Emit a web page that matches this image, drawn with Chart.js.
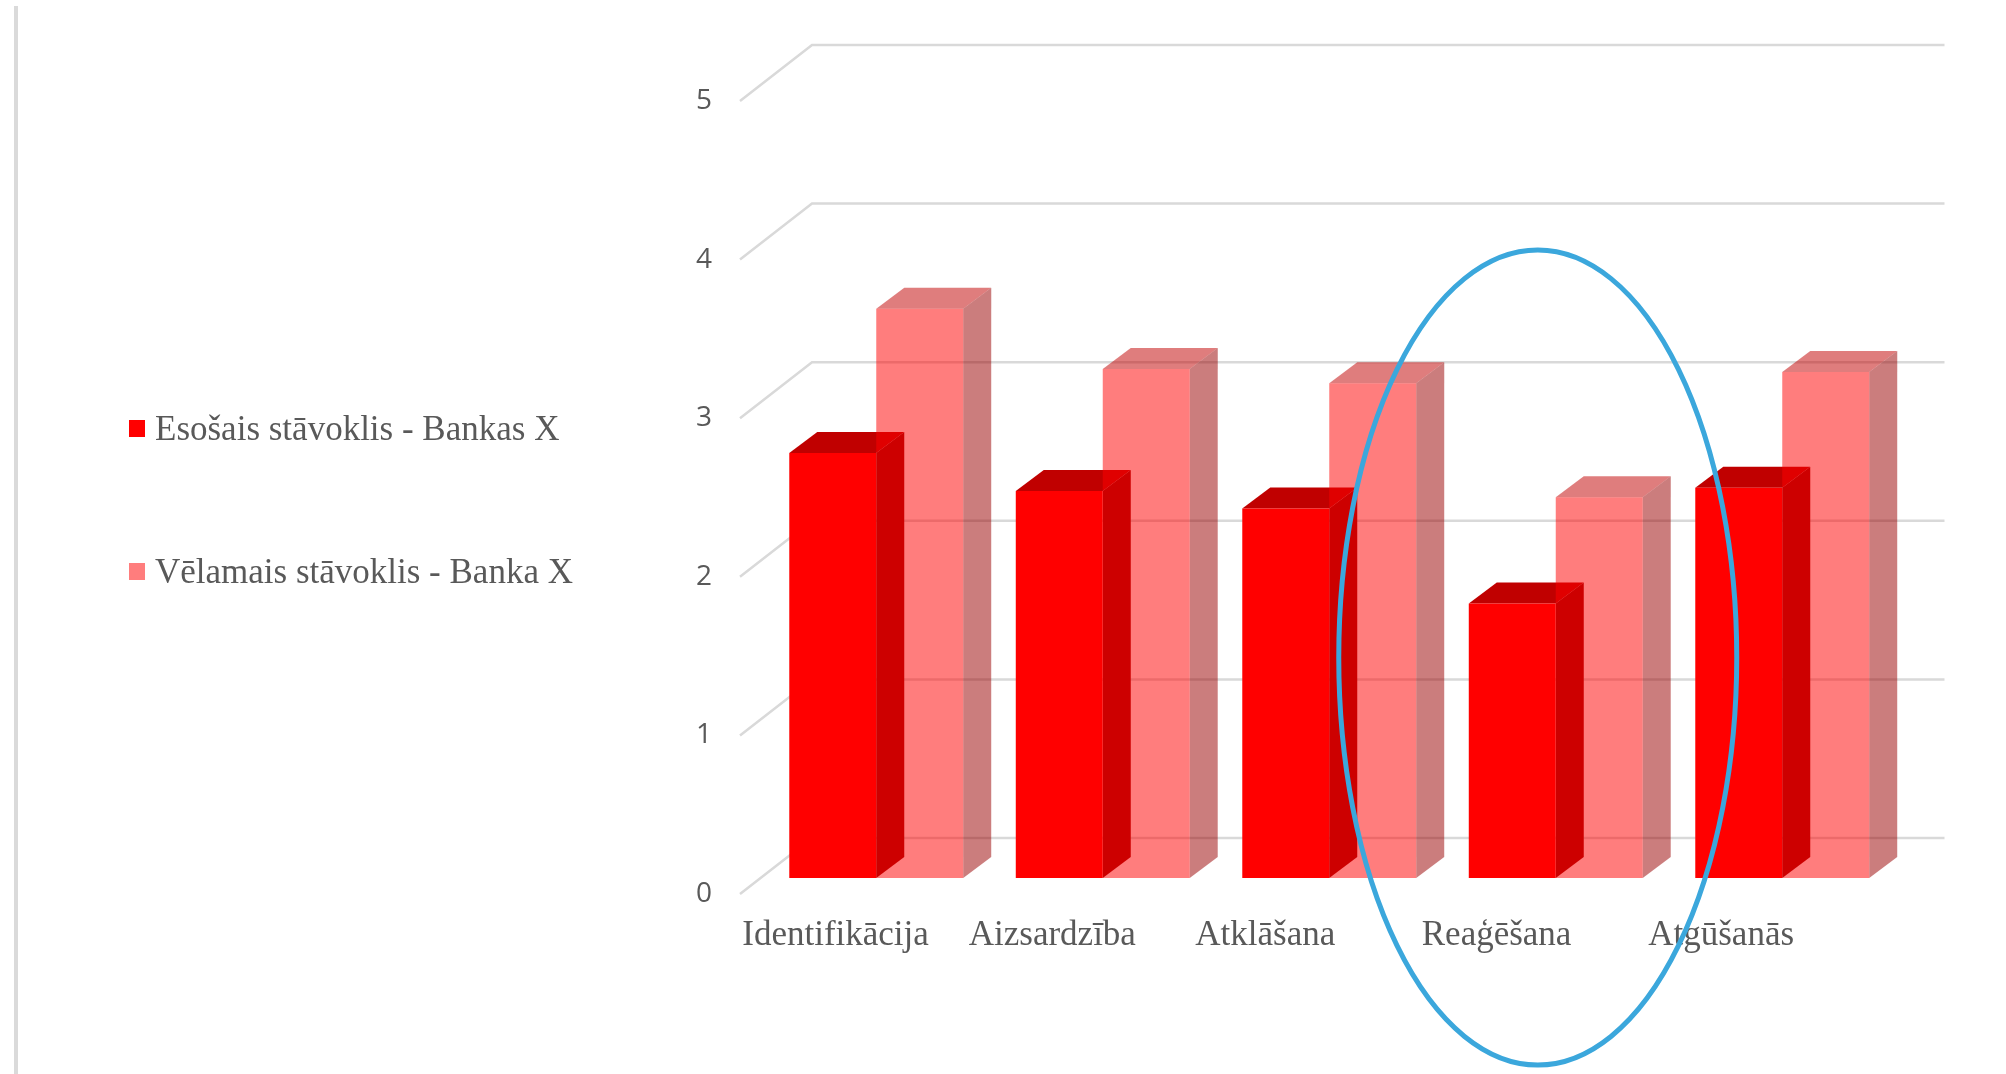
<!DOCTYPE html>
<html lang="lv">
<head>
<meta charset="utf-8">
<title>Bankas X stāvoklis</title>
<script src="https://cdn.jsdelivr.net/npm/chart.js@4.4.1/dist/chart.umd.min.js"></script>
<style>
  html, body { margin: 0; padding: 0; background: #fff; }
  #wrap { position: relative; width: 2006px; height: 1074px; overflow: hidden; }
  #frame { position: absolute; left: 14px; top: 6px; width: 4px; height: 1068px; background: #dadada; }
  canvas { position: absolute; left: 0; top: 0; }
  #legend { position: absolute; left: 129px; top: 0; font-family: 'Liberation Serif', 'Times New Roman', serif; font-size: 35px; color: #595959; }
  .item { position: absolute; left: 0; white-space: nowrap; line-height: 35px; height: 35px; }
  .item .box { position: absolute; left: 0; top: 9px; width: 16px; height: 17px; }
  .item .txt { position: absolute; left: 26px; top: 0; }
</style>
</head>
<body>
<div id="wrap">
  <div id="frame"></div>
  <canvas id="levels" width="2006" height="1074"></canvas>
  <div id="legend"></div>
</div>
<script>
const categories = ['Identifikācija', 'Aizsardzība', 'Atklāšana', 'Reaģēšana', 'Atgūšanās'];
const seriesNames = ['Esošais stāvoklis - Bankas X', 'Vēlamais stāvoklis - Banka X'];
const currentLevel = [2.68, 2.44, 2.33, 1.73, 2.46];
const targetLevel = [3.59, 3.21, 3.12, 2.40, 3.19];
const yTicks = [0, 1, 2, 3, 4, 5];

// extrusion of the columns (px)
const DEPTH_X = 28;
const DEPTH_Y = 21;

// back wall + side wall gridlines
const wallGrid = {
    id: 'wallGrid',
    beforeDatasetsDraw(chart) {
        const { ctx, chartArea, scales: { y } } = chart;
        ctx.save();
        ctx.strokeStyle = '#d9d9d9';
        ctx.lineWidth = 2.5;
        yTicks.forEach(v => {
            const p = y.getPixelForValue(v);
            ctx.beginPath();
            ctx.moveTo(chartArea.left - 23, p + 16);
            ctx.lineTo(chartArea.left + 49, p - 40);
            ctx.lineTo(chartArea.right + 49, p - 40);
            ctx.stroke();
        });
        ctx.restore();
    }
};

// top and right faces, drawn before the fronts so the light series covers them
const columnDepth = {
    id: 'columnDepth',
    beforeDatasetsDraw(chart) {
        const { ctx } = chart;
        ctx.save();
        chart.data.datasets.forEach((ds, i) => {
            chart.getDatasetMeta(i).data.forEach(bar => {
                const { x, y, base, width } = bar.getProps(['x', 'y', 'base', 'width'], true);
                const l = x - width / 2;
                const r = x + width / 2;

                ctx.fillStyle = ds.topColor;
                ctx.beginPath();
                ctx.moveTo(l, y);
                ctx.lineTo(r, y);
                ctx.lineTo(r + DEPTH_X, y - DEPTH_Y);
                ctx.lineTo(l + DEPTH_X, y - DEPTH_Y);
                ctx.closePath();
                ctx.fill();

                ctx.fillStyle = ds.sideColor;
                ctx.beginPath();
                ctx.moveTo(r, y);
                ctx.lineTo(r + DEPTH_X, y - DEPTH_Y);
                ctx.lineTo(r + DEPTH_X, base - DEPTH_Y);
                ctx.lineTo(r, base);
                ctx.closePath();
                ctx.fill();
            });
        });
        ctx.restore();
    }
};

// blue ring around the Reaģēšana group
const highlight = {
    id: 'highlight',
    afterDraw(chart) {
        const { ctx, scales: { x, y } } = chart;
        const cx = x.getPixelForValue(3) - 18;
        const cy = y.getPixelForValue(1.39);
        ctx.save();
        ctx.strokeStyle = '#3ba7dc';
        ctx.lineWidth = 5;
        ctx.beginPath();
        ctx.ellipse(cx, cy, 199, 407.5, 0, 0, Math.PI * 2);
        ctx.stroke();
        ctx.restore();
    }
};

const ctx = document.getElementById('levels').getContext('2d');
const chart = new Chart(ctx, {
    type: 'bar',
    data: {
        labels: categories,
        datasets: [{
            label: seriesNames[0],
            data: currentLevel,
            backgroundColor: '#ff0000',
            topColor: '#c00000',
            sideColor: '#990000',
            borderWidth: 0
        }, {
            label: seriesNames[1],
            data: targetLevel,
            backgroundColor: 'rgba(255, 0, 0, 0.51)',
            topColor: 'rgba(192, 0, 0, 0.51)',
            sideColor: 'rgba(153, 0, 0, 0.51)',
            borderWidth: 0
        }]
    },
    options: {
        responsive: false,
        animation: false,
        devicePixelRatio: 1,
        layout: {
            padding: { left: 643, right: 110.5, top: 85, bottom: 96 }
        },
        datasets: {
            bar: { categoryPercentage: 0.768, barPercentage: 1.0 }
        },
        plugins: {
            legend: { display: false },
            tooltip: { enabled: false }
        },
        scales: {
            x: {
                grid: { display: false, drawTicks: false },
                border: { display: false },
                afterFit: scale => { scale.height = 100; },
                ticks: {
                    align: 'start',
                    labelOffset: -134,
                    padding: 37,
                    maxRotation: 0,
                    autoSkip: false,
                    color: '#595959',
                    font: { family: "'Liberation Serif', 'Times New Roman', serif", size: 35 }
                }
            },
            y: {
                min: 0,
                max: 5,
                grid: { display: false, drawTicks: false },
                border: { display: false },
                afterFit: scale => { scale.width = 120; },
                ticks: {
                    stepSize: 1,
                    padding: 51,
                    labelOffset: 16,
                    color: '#595959',
                    font: { family: "'Open Sans', sans-serif", size: 28 }
                }
            }
        }
    },
    plugins: [wallGrid, columnDepth, highlight]
});

// legend on the left, built from the datasets
const legendBox = document.getElementById('legend');
const legendTops = [411, 553.5];
chart.data.datasets.forEach((ds, i) => {
    const item = document.createElement('div');
    item.className = 'item';
    item.style.top = legendTops[i] + 'px';
    item.innerHTML = `<span class="box" style="background:${ds.backgroundColor}"></span><span class="txt">${ds.label}</span>`;
    legendBox.appendChild(item);
});
</script>
</body>
</html>
